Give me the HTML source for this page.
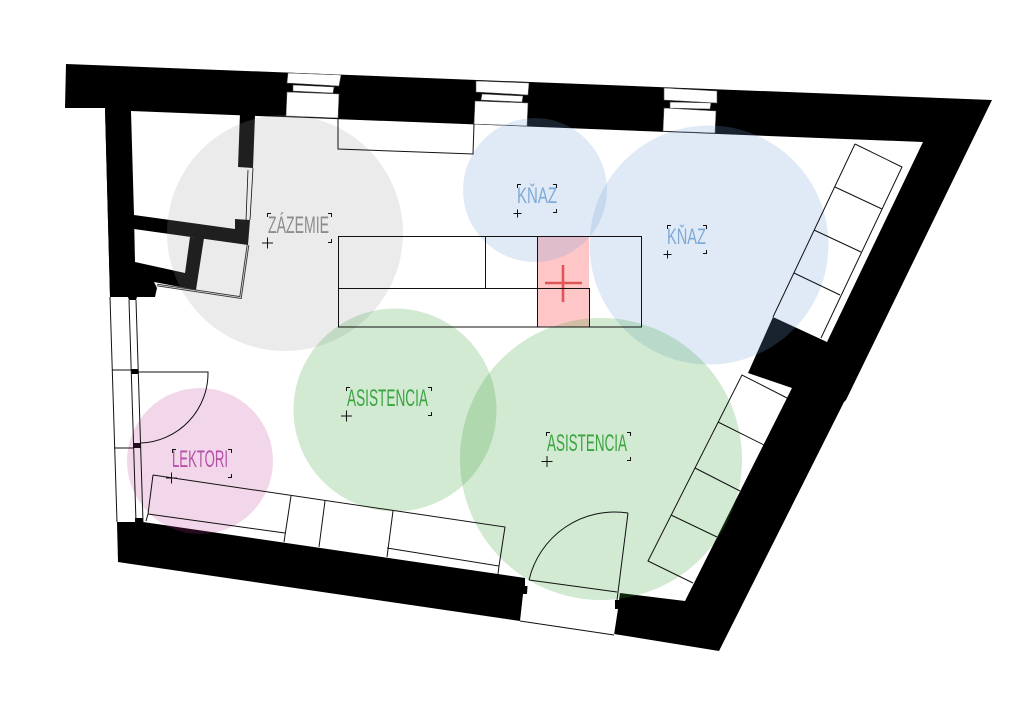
<!DOCTYPE html>
<html><head><meta charset="utf-8"><style>
html,body{margin:0;padding:0;background:#fff;width:1026px;height:718px;overflow:hidden}
svg{display:block}
text{font-family:"Liberation Sans",sans-serif;font-size:24px;stroke:none}
</style></head><body>
<svg width="1026" height="718" viewBox="0 0 1026 718" xmlns="http://www.w3.org/2000/svg">
<rect width="1026" height="718" fill="#fff"/>
<!-- outer walls -->
<polygon fill="#000" points="66,64 992,100 846,400 844,402 719,651 614,634 520,621 118,562 117,522 110,296 105,108 65,108"/>
<!-- room -->
<polygon fill="#fff" points="131,111 923,142 827,342 773,317 748,373 792,388 685,601 620,593 619,600 615,600 615,609 618,609 614,635 520,621 523,594 527,594 527.500,586 525,586 525,578 143,522 117,522 110,296"/>
<!-- left wall + partition -->
<polygon fill="#000" points="105,108 131,111 134,215 135,262 185,273 190,237 204,238 196,290 154,282 157,288 155,297 137,297 136,300 129,300 128,297 110,297"/>
<polygon fill="#000" points="134,215 235,229 235,219 250,220 248,245 134,229"/>
<polygon fill="#000" points="240,113 255,115 253,168 238,167"/>
<polygon fill="#000" points="131,369 138,369 138,374 131,374"/>
<polygon fill="#000" points="133,443 141,443 141,448 133,448"/>
<polygon fill="#000" points="135,518 143,518 143,523 135,523"/>
<!-- windows -->
<g fill="#fff" stroke="#555" stroke-width=".6">
<polygon points="288,73 341,75 339,86 287,83"/><polygon points="293,85 334,87 333,93 293,91"/><polygon points="287,92 339,94 338,118 286,116"/>
<polygon points="476,81 529,83 528,95 476,92"/><polygon points="482,94 523,96 522,102 481,100"/><polygon points="475,101 528,103 527,126 474,124"/>
<polygon points="664,88 717,91 717,103 664,100"/><polygon points="670,102 711,103 710,109 670,108"/><polygon points="664,108 716,111 715,133 663,131"/>
</g>
<!-- red area -->
<rect x="537" y="236" width="52" height="91" fill="#ffc6c8"/>
<!-- circles -->
<circle cx="285" cy="233" r="118" fill="rgb(157,157,160)" fill-opacity=".2"/>
<circle cx="535" cy="190" r="72" fill="rgb(109,160,215)" fill-opacity=".22"/>
<circle cx="709" cy="245" r="119.500" fill="rgb(109,160,215)" fill-opacity=".22"/>
<circle cx="395" cy="410" r="101.500" fill="rgb(60,160,60)" fill-opacity=".23"/>
<circle cx="601" cy="459" r="141" fill="rgb(60,160,60)" fill-opacity=".23"/>
<circle cx="200" cy="461" r="73" fill="rgb(190,50,145)" fill-opacity=".2"/>
<!-- cross -->
<path d="M563 265V302M545 283H582" stroke="#e05558" stroke-width="2.6" fill="none"/>
<!-- lines -->
<g fill="none" stroke="#111" stroke-width="1">
<path d="M338 118L338 149L473 154L474 124"/>
<path d="M338.500 236.500H641.500V327H338.500ZM338.500 288.500H589.500V327M485.500 236.500V288.500M537.500 236.500V327"/>
<path d="M855 144L902 167L821 338M855 144L773 317M835 187L882 209M814 230L861 252M794 273L840 295"/>
<path d="M787 398L742 375L648 561L693 583M718 422L764 445M695 468L740 491M671 515L717 537"/>
<path d="M153 475L505 527L499 566M153 475L148 514L146 521M148 514L285 533M291 496L284 542M325 501L319 547M393 511L387 557M387 548L499 566L498 574"/>
<path d="M110 297L117 522M129 300L136 522M136 300L143 522M112 370H131M114 448H133"/>
<path d="M138 372H208A70 70 0 0 1 141 443"/>
<path d="M628 513L617 600M628 513A88 88 0 0 0 529 580"/>
<path d="M529 580L617 592M520 621L614 635" stroke-width=".9"/>
<path d="M253 168L250 220M248 170L246 220" stroke-width=".8"/>
<path d="M157 285L240.500 297.500L248 245" stroke="#333" stroke-width="2.600"/>
<path d="M157 285L240.500 297.500L248 245" stroke="#ddd" stroke-width=".8"/>
</g>
<!-- labels -->
<g>
<text x="268" y="233" textLength="61" lengthAdjust="spacingAndGlyphs" fill="#8c8c8c">ZÁZEMIE</text>
<text x="517" y="203" textLength="40" lengthAdjust="spacingAndGlyphs" fill="#7fa9d6" style="font-size:22px">KŇAZ</text>
<text x="667" y="244" textLength="39" lengthAdjust="spacingAndGlyphs" fill="#7fa9d6" style="font-size:22px">KŇAZ</text>
<text x="347" y="406" textLength="81" lengthAdjust="spacingAndGlyphs" fill="#3aa440">ASISTENCIA</text>
<text x="547" y="451" textLength="80" lengthAdjust="spacingAndGlyphs" fill="#3aa440">ASISTENCIA</text>
<text x="172" y="467" textLength="56" lengthAdjust="spacingAndGlyphs" fill="#b650a8">LEKTORI</text>
</g>
<!-- brackets + plus -->
<g fill="none" stroke="#111" stroke-width="1">
<path d="M267.500 217V213.500H271M328 213.500H331.500V217M331.500 239V242.500H328M262 243H273M267.500 237.500V248.500"/>
<path d="M517.500 188V184.500H521M553 184.500H556.500V188M556.500 209V212.500H553M513.500 213.500H521.500M517.500 209.500V217.500"/>
<path d="M667.500 229V225.500H671M703 225.500H706.500V229M706.500 250V253.500H703M663.500 254.500H671.500M667.500 250.500V258.500"/>
<path d="M346.500 391V387.500H350M428 387.500H431.500V391M431.500 412V415.500H428M341 416H352M346.500 410.500V421.500"/>
<path d="M546.500 436V432.500H550M627 432.500H630.500V436M630.500 457V460.500H627M541.500 461.500H552.500M547 456V467"/>
<path d="M172.500 453V449.500H176M228 449.500H231.500V453M231.500 474V477.500H228M166 478H177M171.500 472.500V483.500"/>
</g>
</svg>
</body></html>
